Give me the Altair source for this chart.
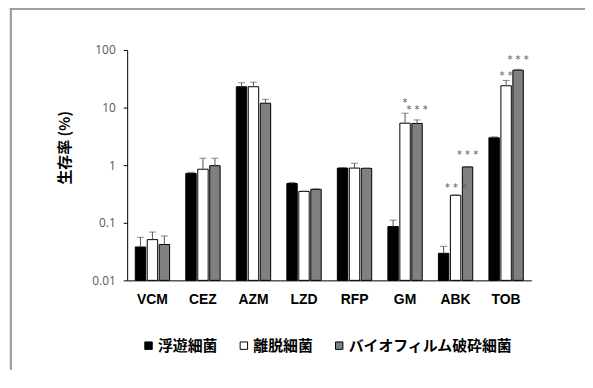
import altair as alt
import pandas as pd

drugs = ["VCM", "CEZ", "AZM", "LZD", "RFP", "GM", "ABK", "TOB"]
groups = ["浮遊細菌", "離脱細菌", "バイオフィルム破砕細菌"]
colors = ["#000000", "#ffffff", "#808080"]

planktonic = [0.038, 0.72, 23.0, 0.48, 0.89, 0.086, 0.0295, 2.99]
planktonic_err = [0.056, 0.75, 27.0, 0.50, 0.91, 0.111, 0.039, 3.1]
detached = [0.051, 0.85, 23.0, 0.35, 0.89, 5.36, 0.30, 23.9]
detached_err = [0.069, 1.32, 27.6, 0.355, 1.08, 7.98, 0.305, 29.6]
disrupted = [0.042, 0.98, 11.9, 0.38, 0.88, 5.3, 0.93, 44.6]
disrupted_err = [0.059, 1.32, 13.9, 0.39, 0.89, 6.1, 0.95, 46.0]

star_drug = ["GM", "GM", "ABK", "ABK", "TOB", "TOB"]
star_group = [groups[1], groups[2], groups[1], groups[2], groups[1], groups[2]]
star_text = ["*", "* * *", "* * *", "* * *", "* *", "* * *"]
star_y = [13.4, 10.2, 0.445, 1.71, 40.1, 74.5]

y_ticks = [0.01, 0.1, 1, 10, 100]

rows = []
for vals, errs, g in [(planktonic, planktonic_err, groups[0]),
                      (detached, detached_err, groups[1]),
                      (disrupted, disrupted_err, groups[2])]:
    for d, v, e in zip(drugs, vals, errs):
        rows.append({"drug": d, "group": g, "value": v, "err": e})
df = pd.DataFrame(rows)
stars = pd.DataFrame({"drug": star_drug, "group": star_group,
                      "text": star_text, "y": star_y})

xenc = alt.X("drug:N", sort=drugs,
             scale=alt.Scale(paddingInner=0.32, paddingOuter=0.16),
             axis=alt.Axis(title=None, labelAngle=0, ticks=False,
                           domainColor="black", labelColor="black",
                           labelFont="Liberation Sans", labelFontSize=14,
                           labelFontWeight="bold", labelPadding=12))
xoff = alt.XOffset("group:N", sort=groups,
                   scale=alt.Scale(domain=groups, paddingInner=0.13))
yscale = alt.Scale(type="log", domain=[0.01, 100], nice=False)

bars = alt.Chart(df).mark_bar(stroke="black", strokeWidth=1).encode(
    x=xenc,
    xOffset=xoff,
    y=alt.Y("value:Q", scale=yscale,
            axis=alt.Axis(title="生存率 (%)", values=y_ticks, format="~g",
                          grid=False, domainColor="black", tickColor="black",
                          tickSize=4, labelPadding=8, labelColor="#595959",
                          labelFont="Open Sans", labelFontSize=12,
                          titleFont="Noto Sans CJK JP", titleFontSize=15,
                          titleFontWeight="bold", titleColor="black",
                          titleX=-63, titleY=98, titleBaseline="middle",
                          titleAlign="center", titleAngle=270)),
    y2=alt.datum(0.01),
    color=alt.Color("group:N",
                    scale=alt.Scale(domain=groups, range=colors),
                    legend=alt.Legend(title=None, orient="none",
                                      direction="horizontal", columns=3,
                                      legendX=14, legendY=290,
                                      symbolType="square", symbolSize=56,
                                      symbolStrokeColor="black",
                                      symbolStrokeWidth=1,
                                      symbolOpacity=1,
                                      labelFont="Noto Sans CJK JP",
                                      labelFontSize=15,
                                      labelFontWeight="bold",
                                      labelColor="black",
                                      labelLimit=0,
                                      labelOffset=2,
                                      columnPadding=18)),
)

errrule = alt.Chart(df).mark_rule(color="#555555", strokeWidth=1).encode(
    x=alt.X("drug:N", sort=drugs), xOffset=xoff,
    y=alt.Y("value:Q", scale=yscale), y2="err:Q")

errcap = alt.Chart(df).mark_tick(color="#555555", thickness=1, size=7,
                                 orient="horizontal").encode(
    x=alt.X("drug:N", sort=drugs), xOffset=xoff,
    y=alt.Y("err:Q", scale=yscale))

startext = alt.Chart(stars).mark_text(color="#595959", fontSize=10,
                                      font="DejaVu Sans",
                                      baseline="middle", dy=3).encode(
    x=alt.X("drug:N", sort=drugs), xOffset=xoff,
    y=alt.Y("y:Q", scale=yscale), text="text:N")

# decorative figure frame (top and left edges visible in the reference)
frame_top = alt.Chart(df).mark_rule(color="#a0a0a0", strokeWidth=2).encode(
    x=alt.value(-118), x2=alt.value(461), y=alt.value(-41.5))
frame_left = alt.Chart(df).mark_rule(color="#a0a0a0", strokeWidth=2).encode(
    x=alt.value(-117), y=alt.value(-42.5), y2=alt.value(322))

chart = alt.layer(frame_top, frame_left, bars, errrule, errcap,
                  startext).properties(
    width=407, height=232,
    autosize=alt.AutoSizeParams(type="none"),
    padding={"left": 120, "top": 41, "right": 54, "bottom": 90},
).configure_view(stroke=None)

chart.save("out.html", embed_options={"renderer": "svg", "actions": False})
